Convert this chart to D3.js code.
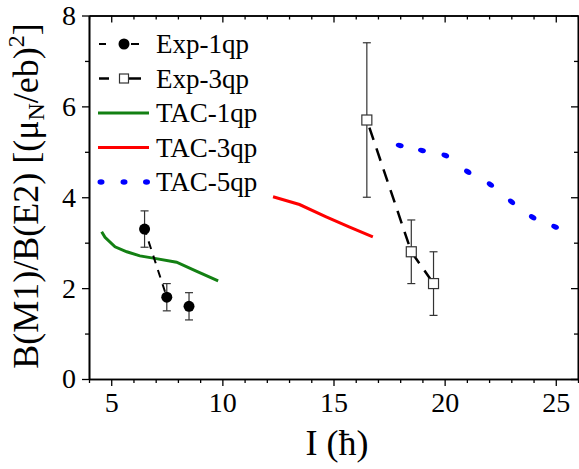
<!DOCTYPE html>
<html><head><meta charset="utf-8">
<script src="https://cdn.jsdelivr.net/npm/d3@7/dist/d3.min.js"></script>
<style>body{margin:0;background:#fff}svg{display:block}svg text{font-family:"Liberation Serif","Times New Roman",serif !important}</style>
</head><body><svg id="c" width="579" height="469"></svg>
<script>
// ---- data ----
const xTicks = [5, 10, 15, 20, 25];
const yTicks = [0, 2, 4, 6, 8];
const exp1I = [6.5, 7.5, 8.5];
const exp1V = [3.3, 1.8, 1.6];
const exp1Err = [0.4, 0.3, 0.3];
const exp1Joined = [true, true, false];
const exp3I = [16.5, 18.5, 19.5];
const exp3V = [5.7, 2.8, 2.1];
const exp3Err = [1.7, 0.7, 0.7];
const tac1I = [4.57, 4.72, 5.17, 5.7, 6.29, 6.89, 7.94, 8.8, 9.81];
const tac1V = [3.24, 3.12, 2.91, 2.8, 2.71, 2.66, 2.57, 2.38, 2.16];
const tac3I = [12.28, 13.47, 14.67, 15.7, 16.77];
const tac3V = [4.01, 3.84, 3.57, 3.35, 3.13];
const tac5I = [17.98, 18.98, 20.03, 21.04, 22.06, 23.01, 23.96, 24.97];
const tac5V = [5.14, 5.03, 4.92, 4.56, 4.28, 3.90, 3.56, 3.35];
const legendLabels = ["Exp-1qp", "Exp-3qp", "TAC-1qp", "TAC-3qp", "TAC-5qp"];

const FONT = "'Liberation Serif','Times New Roman',serif";
const svg = d3.select("#c");
const L = 89, R = 578, T = 15.5, B = 379;
const x = d3.scaleLinear().domain([4, 26]).range([L, R]);
const y = d3.scaleLinear().domain([0, 8]).range([B, T]);

const zip = (a, b) => a.map((v, i) => [v, b[i]]);

// axes
const minorX = d3.range(4, 27, 1).filter(v => !xTicks.includes(v));
const minorY = d3.range(0, 9, 1).filter(v => !yTicks.includes(v));
function styleAxis(g){ g.attr("font-family",FONT); g.select(".domain").attr("stroke","#000").attr("stroke-width",1.6); g.selectAll(".tick line").attr("stroke","#000").attr("stroke-width",1.3); }
function styleLabels(g){ g.selectAll("text").style("font-size","28px").style("font-family",FONT).attr("fill","#000"); }
// bottom
svg.append("g").attr("transform",`translate(0,${B})`).call(d3.axisBottom(x).tickValues(xTicks).tickSize(7).tickSizeOuter(0).tickPadding(6)).call(styleAxis).call(styleLabels);
svg.append("g").attr("transform",`translate(0,${B})`).call(d3.axisBottom(x).tickValues(minorX).tickSize(4).tickSizeOuter(0).tickFormat("")).call(styleAxis);
// top (ticks pointing inward)
svg.append("g").attr("transform",`translate(0,${T})`).call(d3.axisBottom(x).tickValues(xTicks).tickSize(7).tickSizeOuter(0).tickFormat("")).call(styleAxis);
svg.append("g").attr("transform",`translate(0,${T})`).call(d3.axisBottom(x).tickValues(minorX).tickSize(4).tickSizeOuter(0).tickFormat("")).call(styleAxis);
// left
svg.append("g").attr("transform",`translate(${L},0)`).call(d3.axisLeft(y).tickValues(yTicks).tickSize(7).tickSizeOuter(0).tickPadding(6)).call(styleAxis).call(styleLabels);
svg.append("g").attr("transform",`translate(${L},0)`).call(d3.axisLeft(y).tickValues(minorY).tickSize(4).tickSizeOuter(0).tickFormat("")).call(styleAxis);
// right (ticks pointing inward)
svg.append("g").attr("transform",`translate(${R},0)`).call(d3.axisLeft(y).tickValues(yTicks).tickSize(7).tickSizeOuter(0).tickFormat("")).call(styleAxis);
svg.append("g").attr("transform",`translate(${R},0)`).call(d3.axisLeft(y).tickValues(minorY).tickSize(4).tickSizeOuter(0).tickFormat("")).call(styleAxis);

// axis titles
svg.append("text").attr("x", 337).attr("y", 455).attr("text-anchor","middle").style("font-size","36px").style("font-family",FONT).text("I (ħ)");
const yl = svg.append("text").attr("transform","translate(38,196) rotate(-90)").attr("text-anchor","middle").style("font-size","36px").style("font-family",FONT);
yl.append("tspan").text("B(M1)/B(E2) [(μ");
yl.append("tspan").style("font-size","24px").attr("dy",6).text("N");
yl.append("tspan").attr("dy",-6).text("/eb)");
yl.append("tspan").style("font-size","24px").attr("dy",-14).text("2");
yl.append("tspan").attr("dy",14).text("]");

const line = d3.line().x(d => x(d[0])).y(d => y(d[1]));

// TAC lines
svg.append("path").datum(zip(tac1I, tac1V)).attr("d", line).attr("fill","none").attr("stroke","#138013").attr("stroke-width",3);
svg.append("path").datum(zip(tac3I, tac3V)).attr("d", line).attr("fill","none").attr("stroke","#ff0000").attr("stroke-width",3);
// dotted TAC-5qp via oriented markers at each point
const defs = svg.append("defs");
defs.append("marker").attr("id","dot").attr("viewBox","-5 -5 10 10").attr("markerWidth",10).attr("markerHeight",10)
  .attr("markerUnits","userSpaceOnUse").attr("orient","auto").attr("refX",0).attr("refY",0)
  .append("ellipse").attr("rx",4).attr("ry",2.6).attr("fill","#0000ff");
svg.append("path").datum(zip(tac5I, tac5V)).attr("d", line).attr("fill","none").attr("stroke","none")
  .attr("marker-start","url(#dot)").attr("marker-mid","url(#dot)").attr("marker-end","url(#dot)");

// Exp dashed lines
const e1 = zip(exp1I, exp1V).filter((d,i)=>exp1Joined[i]);
svg.append("path").datum(e1).attr("d", line).attr("fill","none").attr("stroke","#000").attr("stroke-width",2).attr("stroke-dasharray","8 7").attr("stroke-dashoffset",-13);
svg.append("path").datum(zip(exp3I, exp3V)).attr("d", line).attr("fill","none").attr("stroke","#000").attr("stroke-width",2.5).attr("stroke-dasharray","13 9").attr("stroke-dashoffset",-8);

// error bars
function errBars(I, V, E){
  const g = svg.append("g").attr("stroke","#333").attr("stroke-width",1.2);
  I.forEach((xi,i)=>{
    g.append("line").attr("x1",x(xi)).attr("x2",x(xi)).attr("y1",y(V[i]-E[i])).attr("y2",y(V[i]+E[i]));
    [V[i]-E[i], V[i]+E[i]].forEach(v=>g.append("line").attr("x1",x(xi)-4).attr("x2",x(xi)+4).attr("y1",y(v)).attr("y2",y(v)));
  });
}
errBars(exp1I, exp1V, exp1Err);
errBars(exp3I, exp3V, exp3Err);
svg.append("g").selectAll("circle").data(zip(exp1I, exp1V)).join("circle")
  .attr("cx",d=>x(d[0])).attr("cy",d=>y(d[1])).attr("r",5.5).attr("fill","#000");
svg.append("g").selectAll("rect").data(zip(exp3I, exp3V)).join("rect")
  .attr("x",d=>x(d[0])-5).attr("y",d=>y(d[1])-5).attr("width",10).attr("height",10).attr("fill","#fff").attr("stroke","#333").attr("stroke-width",1.2);

// legend
const ly = [44, 78.5, 113, 147.5, 182];
const lg = svg.append("g");
legendLabels.forEach((t,i)=>lg.append("text").attr("x",156).attr("y",ly[i]).attr("dy","0.35em").style("font-size","27px").style("font-family",FONT).text(t));
// Exp-1qp
lg.append("line").attr("x1",99).attr("x2",106).attr("y1",ly[0]).attr("y2",ly[0]).attr("stroke","#000").attr("stroke-width",2);
lg.append("line").attr("x1",131).attr("x2",139).attr("y1",ly[0]).attr("y2",ly[0]).attr("stroke","#000").attr("stroke-width",2);
lg.append("circle").attr("cx",124).attr("cy",ly[0]).attr("r",5.5).attr("fill","#000");
// Exp-3qp
lg.append("line").attr("x1",99).attr("x2",109).attr("y1",ly[1]).attr("y2",ly[1]).attr("stroke","#000").attr("stroke-width",2.5);
lg.append("line").attr("x1",129).attr("x2",141).attr("y1",ly[1]).attr("y2",ly[1]).attr("stroke","#000").attr("stroke-width",2.5);
lg.append("rect").attr("x",119.5).attr("y",ly[1]-4.5).attr("width",9).attr("height",9).attr("fill","#fff").attr("stroke","#333").attr("stroke-width",1.2);
// TAC lines
lg.append("line").attr("x1",98).attr("x2",149).attr("y1",ly[2]).attr("y2",ly[2]).attr("stroke","#138013").attr("stroke-width",3);
lg.append("line").attr("x1",98).attr("x2",149).attr("y1",ly[3]).attr("y2",ly[3]).attr("stroke","#ff0000").attr("stroke-width",3);
[101,124,146.5].forEach(cx=>lg.append("ellipse").attr("cx",cx).attr("cy",ly[4]).attr("rx",3.5).attr("ry",2.8).attr("fill","#0000ff"));
</script></body></html>
